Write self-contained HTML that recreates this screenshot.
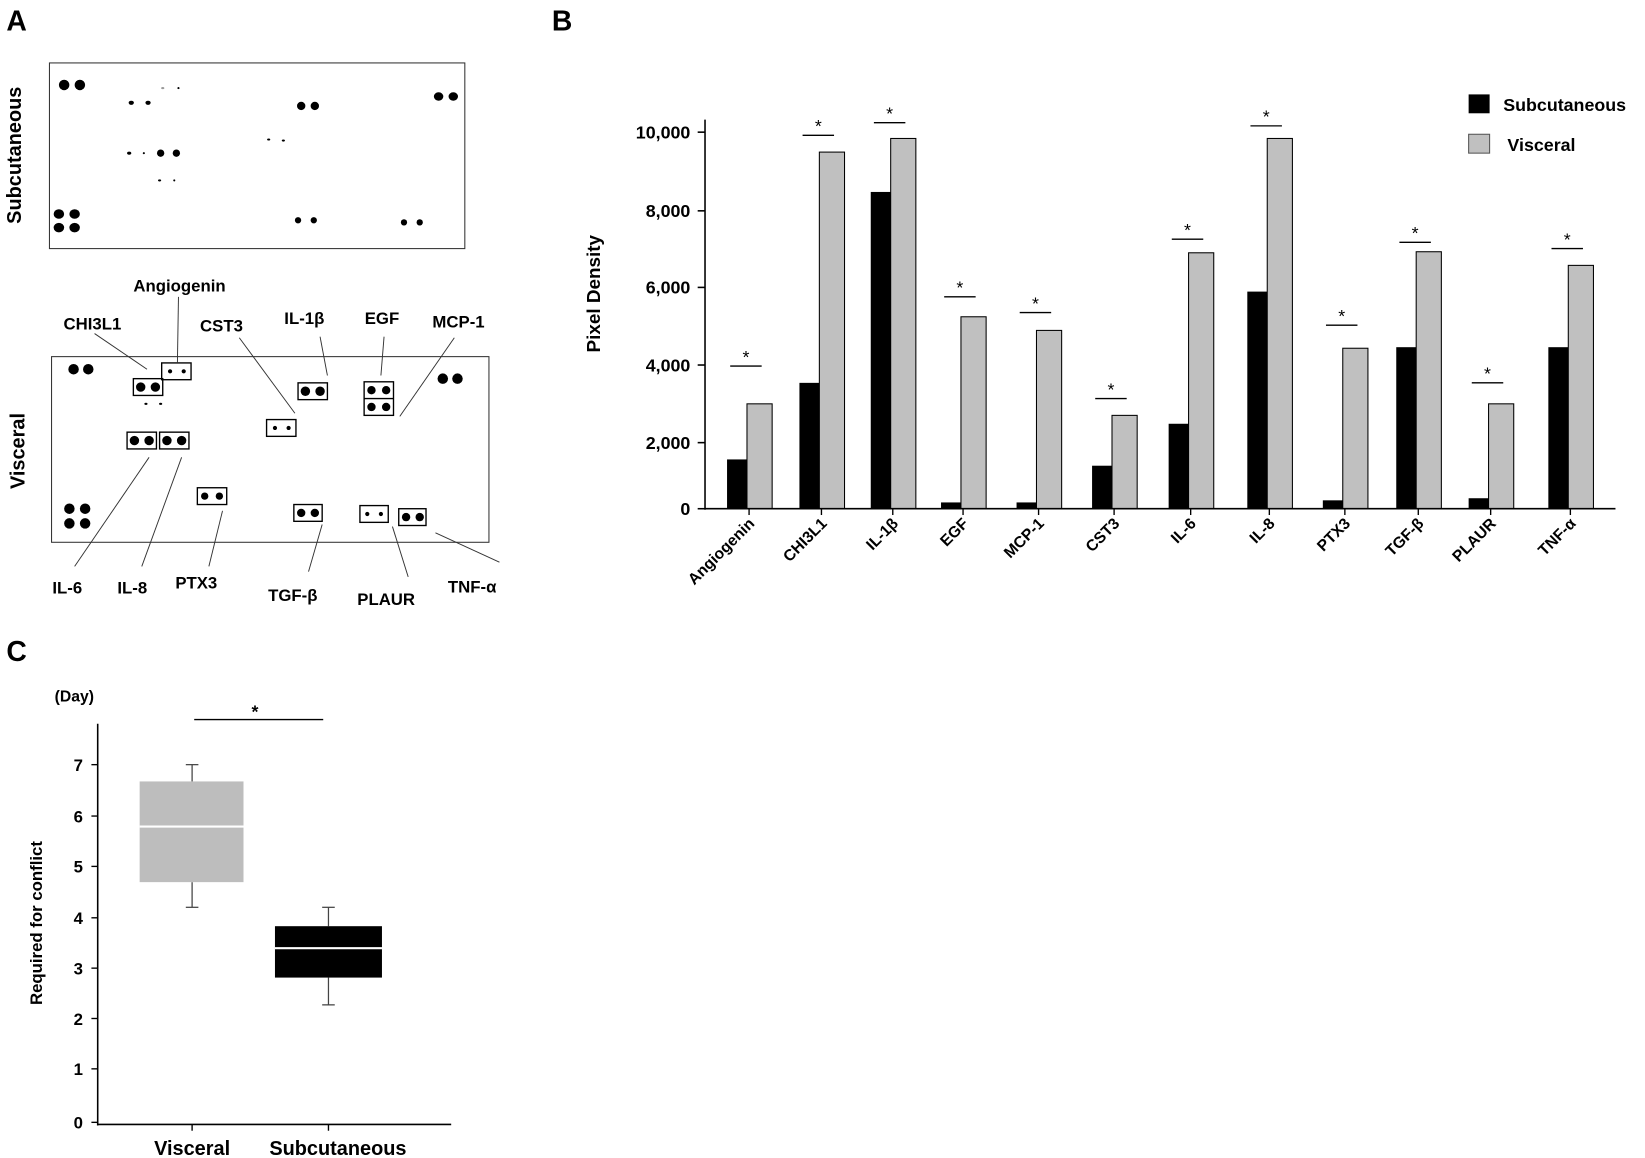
<!DOCTYPE html>
<html><head><meta charset="utf-8"><style>
html,body{margin:0;padding:0;background:#fff}
svg{display:block}
text{font-family:"Liberation Sans",Arial,sans-serif;font-weight:bold;fill:#000}
.st{font-weight:normal;font-size:17px}
</style></head><body>
<svg width="1645" height="1158" viewBox="0 0 1568 1104" xmlns="http://www.w3.org/2000/svg">
<!-- Panel A -->
<text x="6" y="29" font-size="27">A</text>
<rect x="47" y="60" width="396" height="177" fill="none" stroke="#333" stroke-width="1"/>
<text transform="translate(20,148) rotate(-90)" text-anchor="middle" font-size="19">Subcutaneous</text>
<g fill="#000">
<ellipse cx="61" cy="81" rx="5" ry="5"/><ellipse cx="76" cy="81" rx="5" ry="5"/>
<ellipse cx="125" cy="98" rx="2.5" ry="2"/><ellipse cx="141" cy="98" rx="2.5" ry="2"/>
<ellipse cx="155" cy="84" rx="1.5" ry="1" fill="#999"/><ellipse cx="170" cy="84" rx="1" ry="1"/>
<ellipse cx="287" cy="101" rx="4" ry="4"/><ellipse cx="300" cy="101" rx="4" ry="4"/>
<ellipse cx="418" cy="92" rx="4.5" ry="4"/><ellipse cx="432" cy="92" rx="4.5" ry="4"/>
<ellipse cx="123" cy="146" rx="2" ry="1.5"/><ellipse cx="137" cy="146" rx="1" ry="1"/>
<ellipse cx="153" cy="146" rx="3.5" ry="3.5"/><ellipse cx="168" cy="146" rx="3.5" ry="3.5"/>
<ellipse cx="256" cy="133" rx="1.5" ry="1"/><ellipse cx="270" cy="134" rx="1.5" ry="1"/>
<ellipse cx="152" cy="172" rx="1.5" ry="1"/><ellipse cx="166" cy="172" rx="1" ry="1"/>
<ellipse cx="56" cy="204" rx="5" ry="4.5"/><ellipse cx="71" cy="204" rx="5" ry="4.5"/>
<ellipse cx="56" cy="217" rx="5" ry="4.5"/><ellipse cx="71" cy="217" rx="5" ry="4.5"/>
<ellipse cx="284" cy="210" rx="3" ry="3"/><ellipse cx="299" cy="210" rx="3" ry="3"/>
<ellipse cx="385" cy="212" rx="3" ry="3"/><ellipse cx="400" cy="212" rx="3" ry="3"/>
</g>
<rect x="49" y="340" width="417" height="177" fill="none" stroke="#333" stroke-width="1"/>
<text transform="translate(23,430) rotate(-90)" text-anchor="middle" font-size="19">Visceral</text>
<g fill="#000">
<ellipse cx="70" cy="352" rx="5" ry="5"/><ellipse cx="84" cy="352" rx="5" ry="5"/>
<ellipse cx="422" cy="361" rx="5" ry="5"/><ellipse cx="436" cy="361" rx="5" ry="5"/>
<ellipse cx="66" cy="485" rx="5" ry="5"/><ellipse cx="81" cy="485" rx="5" ry="5"/>
<ellipse cx="66" cy="499" rx="5" ry="5"/><ellipse cx="81" cy="499" rx="5" ry="5"/>
<ellipse cx="139" cy="385" rx="1.5" ry="1"/><ellipse cx="153" cy="385" rx="1.5" ry="1"/>
</g>
<g fill="none" stroke="#000" stroke-width="1.3">
<rect x="154" y="346" width="28" height="16"/>
<rect x="127" y="361" width="28" height="16"/>
<rect x="284" y="365" width="28" height="16"/>
<rect x="347" y="364" width="28" height="32"/><line x1="347" y1="380" x2="375" y2="380"/>
<rect x="254" y="400" width="28" height="16"/>
<rect x="121" y="412" width="28" height="16"/>
<rect x="152" y="412" width="28" height="16"/>
<rect x="188" y="465" width="28" height="16"/>
<rect x="280" y="481" width="27" height="16"/>
<rect x="343" y="482" width="27" height="16"/>
<rect x="380" y="485" width="26" height="16"/>
</g>
<g fill="#000">
<circle cx="162" cy="354" r="2"/><circle cx="175" cy="354" r="2"/>
<circle cx="134" cy="369" r="4.5"/><circle cx="148" cy="369" r="4.5"/>
<circle cx="291" cy="373" r="4.5"/><circle cx="305" cy="373" r="4.5"/>
<circle cx="354" cy="372" r="4"/><circle cx="368" cy="372" r="4"/>
<circle cx="354" cy="388" r="4"/><circle cx="368" cy="388" r="4"/>
<circle cx="262" cy="408" r="2"/><circle cx="275" cy="408" r="2"/>
<circle cx="128" cy="420" r="4.5"/><circle cx="142" cy="420" r="4.5"/>
<circle cx="159" cy="420" r="4.5"/><circle cx="173" cy="420" r="4.5"/>
<circle cx="195" cy="473" r="3.5"/><circle cx="209" cy="473" r="3.5"/>
<circle cx="287" cy="489" r="4"/><circle cx="300" cy="489" r="4"/>
<circle cx="350" cy="490" r="2"/><circle cx="363" cy="490" r="2"/>
<circle cx="387" cy="493" r="4"/><circle cx="400" cy="493" r="4"/>
</g>
<g font-size="16" text-anchor="middle">
<text x="171" y="278">Angiogenin</text>
<text x="88" y="314">CHI3L1</text>
<text x="211" y="316">CST3</text>
<text x="290" y="309">IL-1β</text>
<text x="364" y="309">EGF</text>
<text x="437" y="312">MCP-1</text>
<text x="64" y="566">IL-6</text>
<text x="126" y="566">IL-8</text>
<text x="187" y="561">PTX3</text>
<text x="279" y="573">TGF-β</text>
<text x="368" y="577">PLAUR</text>
<text x="450" y="565">TNF-α</text>
</g>
<g stroke="#333" stroke-width="0.9">
<line x1="170" y1="283" x2="169" y2="346"/>
<line x1="90" y1="318" x2="140" y2="352"/>
<line x1="228" y1="322" x2="281" y2="394"/>
<line x1="305" y1="321" x2="312" y2="358"/>
<line x1="366" y1="321" x2="363" y2="358"/>
<line x1="433" y1="322" x2="381" y2="397"/>
<line x1="142" y1="436" x2="71" y2="540"/>
<line x1="173" y1="436" x2="135" y2="540"/>
<line x1="212" y1="487" x2="199" y2="540"/>
<line x1="307" y1="500" x2="294" y2="545"/>
<line x1="374" y1="502" x2="389" y2="550"/>
<line x1="415" y1="508" x2="476" y2="536"/>
</g>
<!-- Panel B -->
<text x="526" y="29" font-size="27">B</text>
<g font-size="17" text-anchor="end">
<text x="658" y="132">10,000</text>
<text x="658" y="207">8,000</text>
<text x="658" y="280">6,000</text>
<text x="658" y="354">4,000</text>
<text x="658" y="428">2,000</text>
<text x="658" y="491">0</text>
</g>
<g stroke="#000" stroke-width="1.5">
<line x1="665" y1="126" x2="672" y2="126"/><line x1="665" y1="201" x2="672" y2="201"/>
<line x1="665" y1="274" x2="672" y2="274"/><line x1="665" y1="348" x2="672" y2="348"/>
<line x1="665" y1="422" x2="672" y2="422"/><line x1="665" y1="485" x2="672" y2="485"/>
</g>
<text transform="translate(572,280) rotate(-90)" text-anchor="middle" font-size="18">Pixel  Density</text>
<rect x="1400" y="90" width="20" height="18" fill="#000"/>
<text x="1433" y="106" font-size="17">Subcutaneous</text>
<rect x="1400" y="128" width="20" height="18" fill="#c0c0c0" stroke="#555"/>
<text x="1437" y="144" font-size="17">Visceral</text>
<g fill="#000">
<rect x="693" y="438" width="19" height="47"/>
<rect x="762" y="365" width="19" height="120"/>
<rect x="830" y="183" width="19" height="302"/>
<rect x="897" y="479" width="19" height="6"/>
<rect x="969" y="479" width="19" height="6"/>
<rect x="1041" y="444" width="19" height="41"/>
<rect x="1114" y="404" width="19" height="81"/>
<rect x="1189" y="278" width="19" height="207"/>
<rect x="1261" y="477" width="19" height="8"/>
<rect x="1331" y="331" width="19" height="154"/>
<rect x="1400" y="475" width="19" height="10"/>
<rect x="1476" y="331" width="19" height="154"/>
</g>
<g fill="#c0c0c0" stroke="#000" stroke-width="1">
<rect x="712" y="385" width="24" height="100"/>
<rect x="781" y="145" width="24" height="340"/>
<rect x="849" y="132" width="24" height="353"/>
<rect x="916" y="302" width="24" height="183"/>
<rect x="988" y="315" width="24" height="170"/>
<rect x="1060" y="396" width="24" height="89"/>
<rect x="1133" y="241" width="24" height="244"/>
<rect x="1208" y="132" width="24" height="353"/>
<rect x="1280" y="332" width="24" height="153"/>
<rect x="1350" y="240" width="24" height="245"/>
<rect x="1419" y="385" width="24" height="100"/>
<rect x="1495" y="253" width="24" height="232"/>
</g>
<g stroke="#000" stroke-width="1.3">
<line x1="696" y1="349" x2="726" y2="349"/>
<line x1="765" y1="129" x2="795" y2="129"/>
<line x1="833" y1="117" x2="863" y2="117"/>
<line x1="900" y1="283" x2="930" y2="283"/>
<line x1="972" y1="298" x2="1002" y2="298"/>
<line x1="1044" y1="380" x2="1074" y2="380"/>
<line x1="1117" y1="228" x2="1147" y2="228"/>
<line x1="1192" y1="120" x2="1222" y2="120"/>
<line x1="1264" y1="310" x2="1294" y2="310"/>
<line x1="1334" y1="231" x2="1364" y2="231"/>
<line x1="1403" y1="365" x2="1433" y2="365"/>
<line x1="1479" y1="237" x2="1509" y2="237"/>
<line x1="714" y1="485" x2="714" y2="491"/><line x1="783" y1="485" x2="783" y2="491"/>
<line x1="851" y1="485" x2="851" y2="491"/><line x1="918" y1="485" x2="918" y2="491"/>
<line x1="990" y1="485" x2="990" y2="491"/><line x1="1062" y1="485" x2="1062" y2="491"/>
<line x1="1135" y1="485" x2="1135" y2="491"/><line x1="1210" y1="485" x2="1210" y2="491"/>
<line x1="1282" y1="485" x2="1282" y2="491"/><line x1="1352" y1="485" x2="1352" y2="491"/>
<line x1="1421" y1="485" x2="1421" y2="491"/><line x1="1497" y1="485" x2="1497" y2="491"/>
</g>
<g text-anchor="middle">
<text class="st" x="711" y="346">*</text>
<text class="st" x="780" y="126">*</text>
<text class="st" x="848" y="114">*</text>
<text class="st" x="915" y="280">*</text>
<text class="st" x="987" y="295">*</text>
<text class="st" x="1059" y="377">*</text>
<text class="st" x="1132" y="225">*</text>
<text class="st" x="1207" y="117">*</text>
<text class="st" x="1279" y="307">*</text>
<text class="st" x="1349" y="228">*</text>
<text class="st" x="1418" y="362">*</text>
<text class="st" x="1494" y="234">*</text>
</g>
<g font-size="15" text-anchor="end">
<text transform="translate(720,500) rotate(-45)">Angiogenin</text>
<text transform="translate(789,500) rotate(-45)">CHI3L1</text>
<text transform="translate(857,500) rotate(-45)">IL-1β</text>
<text transform="translate(924,500) rotate(-45)">EGF</text>
<text transform="translate(996,500) rotate(-45)">MCP-1</text>
<text transform="translate(1068,500) rotate(-45)">CST3</text>
<text transform="translate(1141,500) rotate(-45)">IL-6</text>
<text transform="translate(1216,500) rotate(-45)">IL-8</text>
<text transform="translate(1288,500) rotate(-45)">PTX3</text>
<text transform="translate(1358,500) rotate(-45)">TGF-β</text>
<text transform="translate(1427,500) rotate(-45)">PLAUR</text>
<text transform="translate(1503,500) rotate(-45)">TNF-α</text>
</g>
<line x1="672" y1="114" x2="672" y2="486" stroke="#000" stroke-width="1.5"/>
<line x1="672" y1="485" x2="1540" y2="485" stroke="#000" stroke-width="1.5"/>
<!-- Panel C -->
<text x="6" y="630" font-size="27">C</text>
<text x="52" y="669" font-size="15">(Day)</text>
<line x1="93" y1="690" x2="93" y2="1073" stroke="#000" stroke-width="1.5"/>
<line x1="93" y1="1072" x2="430" y2="1072" stroke="#000" stroke-width="1.5"/>
<g font-size="16" text-anchor="end">
<text x="79" y="1076">0</text><text x="79" y="1025">1</text><text x="79" y="977">2</text>
<text x="79" y="929">3</text><text x="79" y="881">4</text><text x="79" y="832">5</text>
<text x="79" y="784">6</text><text x="79" y="735">7</text>
</g>
<g stroke="#000" stroke-width="1.3">
<line x1="87" y1="1070" x2="93" y2="1070"/><line x1="87" y1="1019" x2="93" y2="1019"/>
<line x1="87" y1="971" x2="93" y2="971"/><line x1="87" y1="923" x2="93" y2="923"/>
<line x1="87" y1="875" x2="93" y2="875"/><line x1="87" y1="826" x2="93" y2="826"/>
<line x1="87" y1="778" x2="93" y2="778"/><line x1="87" y1="729" x2="93" y2="729"/>
<line x1="183" y1="1072" x2="183" y2="1078"/><line x1="313" y1="1072" x2="313" y2="1078"/>
</g>
<text transform="translate(40,880) rotate(-90)" text-anchor="middle" font-size="16">Required for conflict</text>
<line x1="185" y1="686" x2="308" y2="686" stroke="#000" stroke-width="1.3"/>
<text x="243" y="684" font-size="17" font-weight="normal" text-anchor="middle">*</text>
<g stroke="#444" stroke-width="1.2">
<line x1="183" y1="729" x2="183" y2="745"/><line x1="177" y1="729" x2="189" y2="729"/>
<line x1="183" y1="841" x2="183" y2="865"/><line x1="177" y1="865" x2="189" y2="865"/>
<line x1="313" y1="865" x2="313" y2="883"/><line x1="307" y1="865" x2="319" y2="865"/>
<line x1="313" y1="932" x2="313" y2="958"/><line x1="307" y1="958" x2="319" y2="958"/>
</g>
<rect x="133" y="745" width="99" height="96" fill="#bdbdbd"/>
<line x1="133" y1="788" x2="232" y2="788" stroke="#fff" stroke-width="2"/>
<rect x="262" y="883" width="102" height="49" fill="#000"/>
<line x1="262" y1="904" x2="364" y2="904" stroke="#fff" stroke-width="2"/>
<text x="183" y="1101" font-size="19" text-anchor="middle">Visceral</text>
<text x="322" y="1101" font-size="19" text-anchor="middle">Subcutaneous</text>
</svg>
</body></html>
